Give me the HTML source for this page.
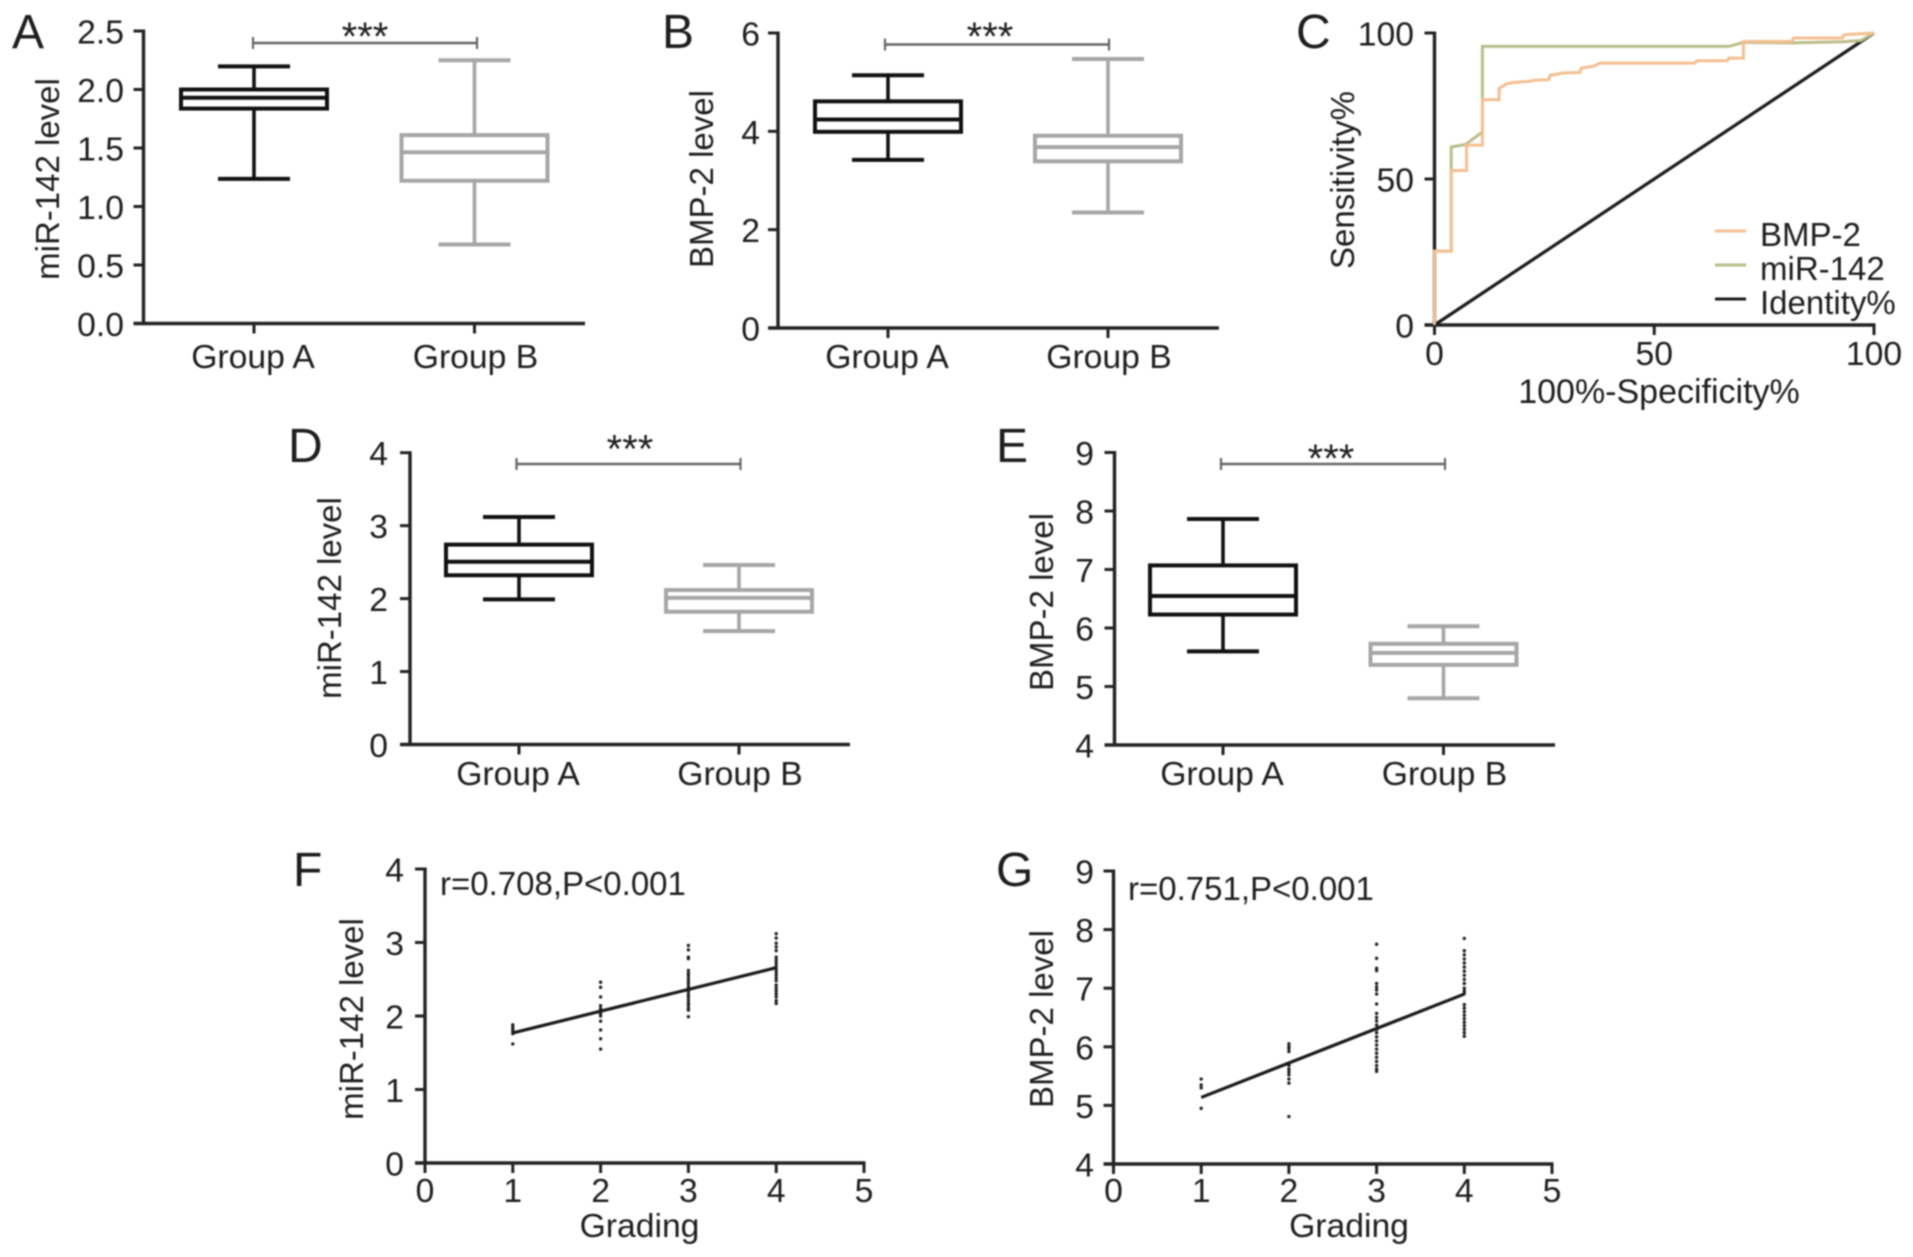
<!DOCTYPE html>
<html lang="en">
<head>
<meta charset="utf-8">
<title>miR-142 and BMP-2 level panels</title>
<style>
html,body{margin:0;padding:0;background:#fff;width:1913px;height:1257px;overflow:hidden}
svg{display:block;filter:blur(0.7px)}
text{font-family:"Liberation Sans",Arial,sans-serif;fill:#1e1e1e}
</style>
</head>
<body>
<svg id="figure" xmlns="http://www.w3.org/2000/svg" width="1913" height="1257" viewBox="0 0 1913 1257"></svg>
<script>
// ---- shared categories ----
const groupCategories = ['Group A', 'Group B'];
const gradingTicks = ['0', '1', '2', '3', '4', '5'];
const gradeLevels = [1, 2, 3, 4];

// ---- Panel A: miR-142 box plot [low, q1, median, q3, high] ----
const panelATicks = ['0.0', '0.5', '1.0', '1.5', '2.0', '2.5'];
const panelAGroupA = [1.236, 1.837, 1.93, 2.0, 2.198];
const panelAGroupB = [0.675, 1.22, 1.464, 1.61, 2.25];

// ---- Panel B: BMP-2 box plot ----
const panelBTicks = ['0', '2', '4', '6'];
const panelBGroupA = [3.42, 3.99, 4.24, 4.61, 5.14];
const panelBGroupB = [2.35, 3.39, 3.68, 3.91, 5.47];

// ---- Panel C: ROC curves ----
const rocTicks = ['0', '50', '100'];
const rocLegend = ['BMP-2', 'miR-142', 'Identity%'];
const bmp2RocX = [0, 0, 3.8, 3.8, 7.3, 7.3, 10.9, 10.9, 14.7, 14.7, 16.4, 18.2, 21.9, 22.4, 26, 26.3, 29.3, 33.1, 33.4, 36.2, 37.6, 59.2, 59.7, 66.6, 67, 70.3, 70.3, 81.3, 81.7, 92.8, 93.2, 100];
const bmp2RocY = [0, 25.3, 25.3, 52.9, 52.9, 61.6, 61.6, 77.2, 77.2, 81, 82.6, 83.1, 83.5, 83.8, 84, 85.5, 86.3, 86.5, 88, 88.6, 89.7, 89.7, 90.5, 90.5, 91.4, 91.4, 97.1, 97.1, 98.3, 98.3, 99.4, 100];
const mirRocX = [0, 0, 3.8, 3.8, 7, 8.1, 10.6, 10.9, 10.9, 67, 70.3, 81.3, 92.8, 97, 100];
const mirRocY = [0, 25.3, 25.3, 61, 61.8, 63, 65.8, 65.8, 95.4, 95.4, 96.8, 96.6, 97, 97.4, 100];
const identityX = [0, 100];
const identityY = [0, 100];

// ---- Panel D: miR-142 box plot ----
const panelDTicks = ['0', '1', '2', '3', '4'];
const panelDGroupA = [1.99, 2.32, 2.505, 2.74, 3.118];
const panelDGroupB = [1.554, 1.82, 2.01, 2.117, 2.46];

// ---- Panel E: BMP-2 box plot ----
const panelETicks = ['4', '5', '6', '7', '8', '9'];
const panelEGroupA = [5.6, 6.23, 6.546, 7.07, 7.864];
const panelEGroupB = [4.8, 5.37, 5.575, 5.73, 6.03];

// ---- Panel F: miR-142 vs grading ----
const panelFTicks = ['0', '1', '2', '3', '4'];
const panelFGrade1 = [1.88, 1.85, 1.82, 1.79, 1.76, 1.62];
const panelFGrade2 = [2.46, 2.39, 2.26, 2.14, 2.1, 2.07, 2.03, 2.0, 1.93, 1.81, 1.69, 1.55];
const panelFGrade3 = [2.96, 2.9, 2.8, 2.78, 2.62, 2.58, 2.55, 2.51, 2.47, 2.44, 2.4, 2.37, 2.33, 2.29, 2.26, 2.22, 2.18, 2.15, 2.11, 2.08, 1.99];
const panelFGrade4 = [3.12, 3.06, 2.99, 2.94, 2.89, 2.8, 2.76, 2.72, 2.68, 2.64, 2.6, 2.56, 2.52, 2.48, 2.42, 2.38, 2.34, 2.3, 2.26, 2.21, 2.17];
const panelFFitX = [1, 4];
const panelFFitY = [1.77, 2.657];

// ---- Panel G: BMP-2 vs grading ----
const panelGTicks = ['4', '5', '6', '7', '8', '9'];
const panelGGrade1 = [5.45, 5.35, 5.3, 4.95];
const panelGGrade2 = [6.05, 6.0, 5.97, 5.92, 5.72, 5.68, 5.62, 5.57, 5.52, 5.45, 5.38, 4.81];
const panelGGrade3 = [7.75, 7.51, 7.34, 7.3, 7.08, 7.02, 6.97, 6.9, 6.73, 6.57, 6.5, 6.44, 6.37, 6.3, 6.24, 6.17, 6.1, 6.03, 5.96, 5.89, 5.82, 5.75, 5.68, 5.62, 5.58];
const panelGGrade4 = [7.85, 7.64, 7.57, 7.5, 7.43, 7.36, 7.29, 7.22, 7.15, 7.08, 7.0, 6.95, 6.91, 6.72, 6.66, 6.6, 6.54, 6.48, 6.42, 6.36, 6.3, 6.24, 6.18];
const panelGFitX = [1, 4];
const panelGFitY = [5.136, 6.9];

const NS = 'http://www.w3.org/2000/svg';
const root = document.getElementById('figure');

function make(tag, attrs, parent) {
  const el = document.createElementNS(NS, tag);
  for (const k in attrs) el.setAttribute(k, attrs[k]);
  parent.appendChild(el);
  return el;
}
function linear(d0, d1, r0, r1) {
  return v => r0 + (v - d0) * (r1 - r0) / (d1 - d0);
}
function label(parent, str, x, y, size, anchor, name, rotate) {
  const attrs = {x: x, y: y, 'font-size': size, 'text-anchor': anchor};
  if (rotate) attrs.transform = 'rotate(-90 ' + x + ' ' + y + ')';
  const el = make('text', attrs, parent);
  el.textContent = str;
  
  
  return el;
}
function stroke(parent, x1, y1, x2, y2, color, width, name) {
  const el = make('line', {x1: x1, y1: y1, x2: x2, y2: y2, stroke: color, 'stroke-width': width}, parent);
  
  
  return el;
}
function panelGroup(id) {
  const g = make('g', {}, root);
  
  
  return g;
}
const AXIS = '#222';
const FS = 33;
const FSH = 33.7;
const LETTER = 48;

function yAxis(g, f, ticks, y, tickRight) {
  stroke(g, f.x, f.top - 1.5, f.x, f.bottom + 1.5, AXIS, 3.4, 'y-axis-line');
  ticks.forEach(t => {
    const v = parseFloat(t);
    stroke(g, f.x - 10, y(v), f.x, y(v), AXIS, 3, 'y-tick');
    label(g, t, tickRight, y(v) + 12.5, FSH, 'end', 'y-tick-label');
  });
}

function drawBox(g, stats, cx, y, color, name) {
  const w = 146, cap = 72, sw = 4;
  const low = stats[0], q1 = stats[1], med = stats[2], q3 = stats[3], high = stats[4];
  stroke(g, cx, y(high), cx, y(q3), color, 3.6, name + '-upper-whisker');
  stroke(g, cx, y(q1), cx, y(low), color, 3.6, name + '-lower-whisker');
  stroke(g, cx - cap / 2, y(high), cx + cap / 2, y(high), color, sw, name + '-upper-cap');
  stroke(g, cx - cap / 2, y(low), cx + cap / 2, y(low), color, sw, name + '-lower-cap');
  const r = make('rect', {x: cx - w / 2, y: y(q3), width: w, height: y(q1) - y(q3), fill: 'none', stroke: color, 'stroke-width': sw}, g);
  
  
  stroke(g, cx - w / 2, y(med), cx + w / 2, y(med), color, sw, name + '-median');
}

function boxPanel(id, f, ticks, groupA, groupB, title) {
  const g = panelGroup(id);
  const v0 = parseFloat(ticks[0]), v1 = parseFloat(ticks[ticks.length - 1]);
  const y = linear(v0, v1, f.bottom, f.top);
  yAxis(g, f, ticks, y, f.labelRight);
  stroke(g, f.x - 10, f.bottom, f.right, f.bottom, AXIS, 3.4, 'x-axis-line');
  const xs = [f.catA, f.catB];
  groupCategories.forEach((c, i) => {
    stroke(g, xs[i], f.bottom, xs[i], f.bottom + 10, AXIS, 3, 'x-tick');
    label(g, c, xs[i] + (i ? 1 : -1), f.catBase, FSH, 'middle', 'x-tick-label');
  });
  label(g, title, f.titleX, f.titleY, FS, 'middle', 'y-axis-title', true);
  drawBox(g, groupA, xs[0], y, '#111', 'group-a');
  drawBox(g, groupB, xs[1], y, '#a6a6a6', 'group-b');
  stroke(g, f.sigA, f.sigY, f.sigB, f.sigY, '#666', 2.4, 'significance-bar');
  stroke(g, f.sigA, f.sigY - 6, f.sigA, f.sigY + 6, '#666', 2.2, 'significance-cap');
  stroke(g, f.sigB, f.sigY - 6, f.sigB, f.sigY + 6, '#666', 2.2, 'significance-cap');
  label(g, '***', f.starX, f.starBase, 40, 'middle', 'significance-stars');
  label(g, f.letter, f.letterX, f.letterBase, LETTER, 'start', 'panel-letter');
}

function scatterPanel(id, f, ticks, columns, fitX, fitY, title, note) {
  const g = panelGroup(id);
  const v0 = parseFloat(ticks[0]), v1 = parseFloat(ticks[ticks.length - 1]);
  const y = linear(v0, v1, f.bottom, f.top);
  const x = linear(0, 5, f.x, f.right);
  yAxis(g, f, ticks, y, f.labelRight);
  stroke(g, f.x - 10, f.bottom, f.right + 1.5, f.bottom, AXIS, 3.4, 'x-axis-line');
  gradingTicks.forEach(t => {
    const v = parseFloat(t);
    stroke(g, x(v), f.bottom, x(v), f.bottom + 10, AXIS, 3, 'x-tick');
    label(g, t, x(v), f.numBase, FSH, 'middle', 'x-tick-label');
  });
  label(g, 'Grading', f.gradeX, f.gradeBase, FSH, 'middle', 'x-axis-title');
  label(g, title, f.titleX, f.titleY, FS, 'middle', 'y-axis-title', true);
  label(g, note, f.noteX, f.noteBase, FS, 'start', 'correlation-note');
  gradeLevels.forEach((grade, i) => {
    columns[i].forEach(v => {
      const c = make('circle', {cx: x(grade), cy: y(v), r: 1.7, fill: '#222'}, g);
      
      
    });
  });
  stroke(g, x(fitX[0]), y(fitY[0]), x(fitX[1]), y(fitY[1]), '#1a1a1a', 3.2, 'regression-line');
  label(g, f.letter, f.letterX, f.letterBase, LETTER, 'start', 'panel-letter');
}

function rocPanel() {
  const g = panelGroup('panel-c');
  const f = {x: 1434.5, right: 1874, top: 33, bottom: 325};
  const x = linear(0, 100, f.x, f.right);
  const y = linear(0, 100, f.bottom, f.top);
  stroke(g, f.x, f.top - 1.5, f.x, f.bottom + 1.5, AXIS, 3.4, 'y-axis-line');
  stroke(g, f.x - 10, f.bottom, f.right + 1.5, f.bottom, AXIS, 3.4, 'x-axis-line');
  rocTicks.forEach(t => {
    const v = parseFloat(t);
    stroke(g, f.x - 10, y(v), f.x, y(v), AXIS, 3, 'y-tick');
    label(g, t, 1414, y(v) + 12.5, FSH, 'end', 'y-tick-label');
    stroke(g, x(v), f.bottom, x(v), f.bottom + 10, AXIS, 3, 'x-tick');
    label(g, t, x(v), 365, FSH, 'middle', 'x-tick-label');
  });
  label(g, '100%-Specificity%', 1659, 403, 34, 'middle', 'x-axis-title');
  label(g, 'Sensitivity%', 1354, 180, FS, 'middle', 'y-axis-title', true);
  function curve(xs, ys, color, width, name) {
    const pts = xs.map((v, i) => x(v) + ',' + y(ys[i])).join(' ');
    const p = make('polyline', {points: pts, fill: 'none', stroke: color, 'stroke-width': width}, g);
    
    
  }
  curve(identityX, identityY, '#1c1c1c', 3.2, 'identity-line');
  curve(mirRocX, mirRocY, '#b9bd88', 3, 'mir-142-roc-curve');
  curve(bmp2RocX, bmp2RocY, '#f4bf92', 3, 'bmp-2-roc-curve');
  const colors = ['#f4bf92', '#b9bd88', '#1c1c1c'];
  const lineYs = [231, 265, 299];
  const textYs = [246, 280, 314];
  rocLegend.forEach((s, i) => {
    stroke(g, 1715, lineYs[i], 1746, lineYs[i], colors[i], 3, 'legend-swatch');
    label(g, s, 1760, textYs[i], FS, 'start', 'legend-entry');
  });
  label(g, 'C', 1296, 48, LETTER, 'start', 'panel-letter');
}

boxPanel('panel-a', {x: 143.5, right: 585, top: 31, bottom: 323.5, catA: 254, catB: 474.5, labelRight: 124, catBase: 368,
  titleX: 59, titleY: 179, sigA: 253, sigB: 477, sigY: 43, starX: 365, starBase: 50, letter: 'A', letterX: 12, letterBase: 48},
  panelATicks, panelAGroupA, panelAGroupB, 'miR-142 level');
boxPanel('panel-b', {x: 778, right: 1219, top: 33, bottom: 328, catA: 888, catB: 1108, labelRight: 760, catBase: 368,
  titleX: 713, titleY: 179, sigA: 885, sigB: 1109, sigY: 44.5, starX: 990, starBase: 50, letter: 'B', letterX: 662, letterBase: 48},
  panelBTicks, panelBGroupA, panelBGroupB, 'BMP-2 level');
rocPanel();
boxPanel('panel-d', {x: 410, right: 850, top: 452.7, bottom: 744.5, catA: 519, catB: 739, labelRight: 388, catBase: 785,
  titleX: 341, titleY: 598, sigA: 516.5, sigB: 740.5, sigY: 464, starX: 630, starBase: 462.5, letter: 'D', letterX: 288, letterBase: 462},
  panelDTicks, panelDGroupA, panelDGroupB, 'miR-142 level');
boxPanel('panel-e', {x: 1114.5, right: 1555, top: 452.5, bottom: 745, catA: 1223, catB: 1443.5, labelRight: 1094, catBase: 785,
  titleX: 1053, titleY: 602, sigA: 1221, sigB: 1445, sigY: 464, starX: 1331, starBase: 472, letter: 'E', letterX: 996, letterBase: 462},
  panelETicks, panelEGroupA, panelEGroupB, 'BMP-2 level');
scatterPanel('panel-f', {x: 425, right: 864, top: 869, bottom: 1163, labelRight: 404, numBase: 1202, gradeX: 639.5, gradeBase: 1237,
  titleX: 363, titleY: 1019, noteX: 440, noteBase: 895, letter: 'F', letterX: 293, letterBase: 886},
  panelFTicks, [panelFGrade1, panelFGrade2, panelFGrade3, panelFGrade4], panelFFitX, panelFFitY, 'miR-142 level', 'r=0.708,P<0.001');
scatterPanel('panel-g', {x: 1113.5, right: 1552, top: 871, bottom: 1164, labelRight: 1094, numBase: 1202, gradeX: 1349, gradeBase: 1237,
  titleX: 1053, titleY: 1019, noteX: 1128, noteBase: 900, letter: 'G', letterX: 996, letterBase: 886},
  panelGTicks, [panelGGrade1, panelGGrade2, panelGGrade3, panelGGrade4], panelGFitX, panelGFitY, 'BMP-2 level', 'r=0.751,P<0.001');
</script>
</body>
</html>
